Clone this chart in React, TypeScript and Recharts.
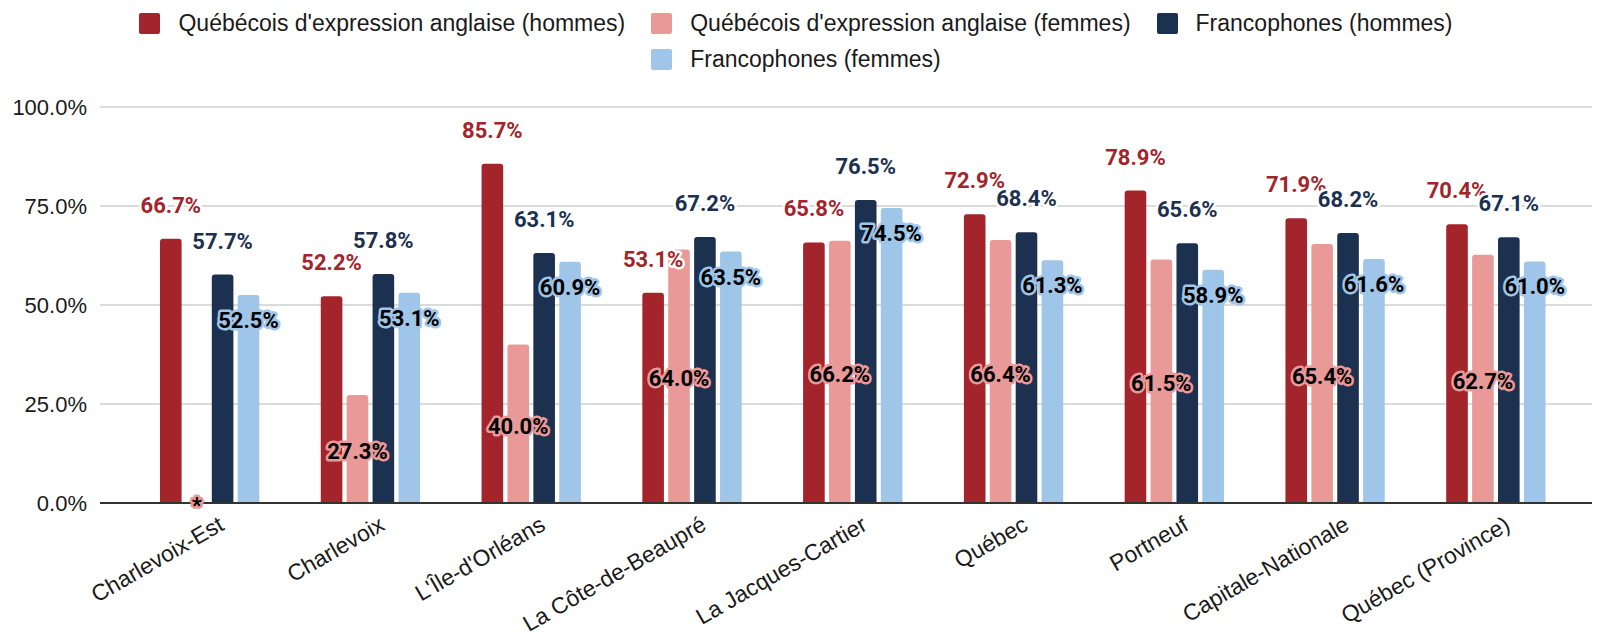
import React from "react";
import {
  BarChart,
  Bar,
  XAxis,
  YAxis,
  CartesianGrid,
  Legend,
  LabelList,
} from "recharts";

const categories = [
  "Charlevoix-Est",
  "Charlevoix",
  "L'Île-d'Orléans",
  "La Côte-de-Beaupré",
  "La Jacques-Cartier",
  "Québec",
  "Portneuf",
  "Capitale-Nationale",
  "Québec (Province)",
];

const anglaisHommes = [66.7, 52.2, 85.7, 53.1, 65.8, 72.9, 78.9, 71.9, 70.4];
// 0 = valeur non diffusée, affichée "*"
const anglaisFemmes = [0, 27.3, 40.0, 64.0, 66.2, 66.4, 61.5, 65.4, 62.7];
const francoHommes = [57.7, 57.8, 63.1, 67.2, 76.5, 68.4, 65.6, 68.2, 67.1];
const francoFemmes = [52.5, 53.1, 60.9, 63.5, 74.5, 61.3, 58.9, 61.6, 61.0];

const yTicks = [0, 25, 50, 75, 100];

const seriesNames = [
  "Québécois d'expression anglaise (hommes)",
  "Québécois d'expression anglaise (femmes)",
  "Francophones (hommes)",
  "Francophones (femmes)",
];

const RED = "#A3242B";
const PINK = "#EA9999";
const NAVY = "#1C3150";
const LIGHT = "#9FC5E8";

const data = categories.map((name, i) => ({
  name,
  ah: anglaisHommes[i],
  af: anglaisFemmes[i],
  fh: francoHommes[i],
  ff: francoFemmes[i],
}));

const AXIS_FONT = "'Liberation Sans', Arial, sans-serif";
const LABEL_FONT = "Roboto, 'Noto Sans', sans-serif";

function fmt(v: number) {
  return v.toFixed(1) + "%";
}

// where: "above" (colored text, white halo), "inside" (black text, halo of series color, near top),
// "middle" (black text, halo of series color, at bar mid-height)
function makeLabel(where: string, color: string) {
  return (props: any) => {
    const vb = props.viewBox || props;
    const x = Number(vb.x);
    const y = Number(vb.y);
    const w = Number(vb.width);
    const h = Number(vb.height);
    const v = Number(props.value);
    const cx = x + w / 2;
    let ty = y - 26;
    if (where === "inside") ty = y + 33;
    if (where === "middle") ty = y + h / 2 + 10;
    const above = where === "above";
    const text = v === 0 ? "*" : fmt(v);
    return (
      <text
        x={cx}
        y={ty}
        textAnchor="middle"
        fontFamily={LABEL_FONT}
        fontWeight={700}
        fontSize={22}
        fill={above ? color : "#000"}
        stroke={above ? "#fff" : color}
        strokeWidth={5}
        strokeLinejoin="round"
        paintOrder="stroke"
      >
        {text}
      </text>
    );
  };
}

function CategoryTick({ x, y, payload }: any) {
  return (
    <g transform={`translate(${x + 16},${y + 26})`}>
      <text
        textAnchor="end"
        transform="rotate(-30)"
        fontFamily={AXIS_FONT}
        fontSize={22.8}
        fill="#1a1a1a"
      >
        {payload.value}
      </text>
    </g>
  );
}

const legendColors = [RED, PINK, NAVY, LIGHT];

function LegendBox() {
  const cells = [
    { col: 1, row: 1 },
    { col: 2, row: 1 },
    { col: 3, row: 1 },
    { col: 2, row: 2 },
  ];
  return (
    <div style={{ height: 107, boxSizing: "border-box", paddingTop: 5 }}>
      <div
        style={{
          display: "grid",
          gridTemplateColumns: "auto auto auto",
          gridAutoRows: "36px",
          columnGap: 26,
          justifyContent: "center",
        }}
      >
        {seriesNames.map((n, i) => (
          <div
            key={n}
            style={{
              gridColumn: cells[i].col,
              gridRow: cells[i].row,
              display: "flex",
              alignItems: "center",
              fontFamily: AXIS_FONT,
              fontSize: 23,
              color: "#1a1a1a",
              whiteSpace: "nowrap",
            }}
          >
            <span
              style={{
                display: "inline-block",
                width: 21,
                height: 21,
                borderRadius: 2,
                background: legendColors[i],
                marginRight: 18,
              }}
            />
            {n}
          </div>
        ))}
      </div>
    </div>
  );
}

// keep a zero-height entry so its "*" label is still placed
const tinyForZero = (v: number) => (v === 0 ? 0.01 : 0);

export default function App() {
  return (
    <div style={{ position: "absolute", left: 0, top: 0, width: 1600, height: 638, background: "#fff" }}>
      <BarChart
        width={1600}
        height={638}
        data={data}
        margin={{ top: 0, right: 8, left: 0, bottom: 0 }}
        barSize={21.6}
        barGap={4.3}
      >
        <Legend verticalAlign="top" content={() => <LegendBox />} />
        <CartesianGrid vertical={false} stroke="#cfcfcf" strokeWidth={1.5} />
        <XAxis
          dataKey="name"
          height={135}
          interval={0}
          tickLine={false}
          tickSize={0}
          tickMargin={0}
          axisLine={{ stroke: "#333", strokeWidth: 2 }}
          padding={{ left: 29, right: 16 }}
          tick={<CategoryTick />}
        />
        <YAxis
          width={100}
          domain={[0, 100]}
          ticks={yTicks}
          tickFormatter={(v: number) => fmt(v)}
          axisLine={false}
          tickLine={false}
          tickSize={0}
          tickMargin={13}
          tick={{ fontFamily: AXIS_FONT, fontSize: 22, fill: "#1a1a1a" }}
        />
        <Bar dataKey="ah" name={seriesNames[0]} fill={RED} radius={[3, 3, 0, 0]} isAnimationActive={false}>
          <LabelList dataKey="ah" content={makeLabel("above", RED)} />
        </Bar>
        <Bar
          dataKey="af"
          name={seriesNames[1]}
          fill={PINK}
          radius={[3, 3, 0, 0]}
          minPointSize={tinyForZero as any}
          isAnimationActive={false}
        >
          <LabelList dataKey="af" content={makeLabel("middle", PINK)} />
        </Bar>
        <Bar dataKey="fh" name={seriesNames[2]} fill={NAVY} radius={[3, 3, 0, 0]} isAnimationActive={false}>
          <LabelList dataKey="fh" content={makeLabel("above", NAVY)} />
        </Bar>
        <Bar dataKey="ff" name={seriesNames[3]} fill={LIGHT} radius={[3, 3, 0, 0]} isAnimationActive={false}>
          <LabelList dataKey="ff" content={makeLabel("inside", LIGHT)} />
        </Bar>
      </BarChart>
    </div>
  );
}
